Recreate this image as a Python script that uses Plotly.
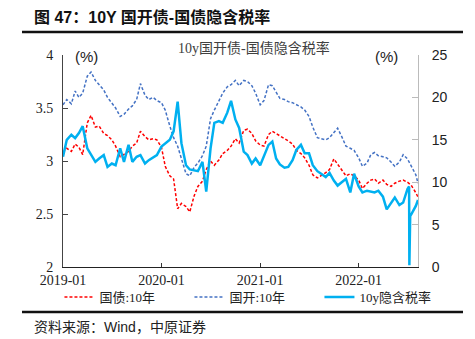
import pandas as pd
import plotly.graph_objects as go

# ---- data ----
grid_dates = list(pd.date_range("2019-01-01", "2022-08-01", freq="SMS").strftime("%Y-%m-%d")) + ["2022-08-09"]

gz_10y = [3.08, 3.12, 3.09, 3.16, 3.13, 3.06, 3.36, 3.43, 3.32, 3.33,
          3.26, 3.24, 3.20, 3.14, 3.04, 3.06, 3.09, 3.14, 3.17, 3.28,
          3.23, 3.20, 3.21, 3.20, 3.13, 2.95, 2.86, 2.83, 2.55, 2.60,
          2.57, 2.52, 2.67, 2.76, 2.81, 2.92, 3.00, 2.96, 3.01, 3.07,
          3.10, 3.14, 3.21, 3.17, 3.29, 3.30, 3.26, 3.19, 3.15, 3.14,
          3.25, 3.28, 3.26, 3.24, 3.21, 3.19, 3.16, 3.10, 3.07, 3.03,
          2.96, 2.87, 2.84, 2.86, 2.89, 2.92, 3.02, 2.97, 2.91, 2.86,
          2.88, 2.86, 2.82, 2.74, 2.79, 2.82, 2.83, 2.79, 2.82, 2.78,
          2.76, 2.79, 2.81, 2.82, 2.80, 2.77, 2.70, 2.66]

gk_10y = [3.53, 3.58, 3.54, 3.66, 3.60, 3.64, 3.80, 3.84, 3.76, 3.72,
          3.67, 3.60, 3.55, 3.50, 3.42, 3.44, 3.49, 3.52, 3.58, 3.73,
          3.62, 3.58, 3.60, 3.57, 3.55, 3.48, 3.33, 3.22, 3.14, 3.02,
          2.88, 2.86, 2.94, 2.98, 3.05, 3.14, 3.40, 3.48, 3.56, 3.64,
          3.70, 3.72, 3.76, 3.71, 3.76, 3.75, 3.71, 3.64, 3.53, 3.57,
          3.72, 3.71, 3.65, 3.59, 3.58, 3.56, 3.55, 3.53, 3.51, 3.48,
          3.42, 3.32, 3.22, 3.21, 3.20, 3.22, 3.27, 3.31, 3.22, 3.14,
          3.12, 3.10, 3.03, 2.95, 2.98, 3.06, 3.08, 3.05, 3.04, 3.03,
          2.99, 2.95, 2.99, 3.06, 3.02, 2.95, 2.87, 2.79]

tax_dates = grid_dates[:85] + ["2022-07-07", "2022-07-08", "2022-07-11"] + grid_dates[85:]
tax_10y = [13.0, 15.0, 15.6, 15.2, 15.8, 16.6, 14.0, 13.2, 12.4, 12.8,
           13.2, 11.8, 12.2, 12.0, 14.0, 12.4, 14.4, 12.4, 13.0, 13.2,
           12.2, 12.6, 12.9, 13.2, 14.2, 14.6, 15.0, 16.0, 19.5, 14.6,
           12.0, 11.5, 11.4, 11.3, 12.4, 8.9, 14.0, 17.0, 17.2, 17.0,
           18.2, 19.6, 17.4, 16.4, 13.6, 13.2, 12.2, 12.8, 12.0, 13.0,
           14.4, 14.8, 12.8, 12.1, 11.7, 11.8, 12.6, 13.8, 14.4, 13.4,
           13.4, 12.0, 11.3, 11.0, 10.6, 11.1, 10.2, 9.6, 10.0, 10.4,
           8.8, 11.0, 9.5, 8.8, 9.0, 8.9, 8.8, 9.0, 8.3, 6.8,
           7.6, 8.2, 7.3, 7.6, 9.2, 9.5, 0.2, 6.0, 6.2, 7.2, 7.9]

year_ticks = ["2019-01-01", "2020-01-01", "2021-01-01", "2022-01-01"]
year_labels = ["2019-01", "2020-01", "2021-01", "2022-01"]

SERIF = "Liberation Serif, Times New Roman, Noto Sans CJK SC, serif"
SANS = "Liberation Sans, Arial, Noto Sans CJK SC, sans-serif"
CJK_SERIF = "Liberation Serif, Noto Sans CJK SC, serif"

fig = go.Figure()
fig.add_trace(go.Scatter(x=grid_dates, y=gz_10y, name="国债:10年", mode="lines",
                         line=dict(color="#FF0000", width=1.5, dash="3px,2px")))
fig.add_trace(go.Scatter(x=grid_dates, y=gk_10y, name="国开:10年", mode="lines",
                         line=dict(color="#4472C4", width=1.5, dash="3px,2px")))
fig.add_trace(go.Scatter(x=tax_dates, y=tax_10y, name="10y隐含税率", mode="lines",
                         yaxis="y2", line=dict(color="#00B0F0", width=2.5)))

fig.update_layout(
    width=475, height=339,
    margin=dict(l=63, r=57, t=55, b=72, autoexpand=False),
    paper_bgcolor="white", plot_bgcolor="white",
    showlegend=True,
    legend=dict(orientation="h", x=-0.01, xanchor="left", y=-0.1415, yanchor="middle",
                font=dict(family=CJK_SERIF, size=13, color="#222"),
                entrywidth=85, entrywidthmode="pixels", itemwidth=30,
                bgcolor="rgba(0,0,0,0)"),
    xaxis=dict(type="date", range=["2019-01-01", "2022-08-09"],
               tickvals=year_ticks, ticktext=year_labels,
               ticks="inside", ticklen=4, tickcolor="#333",
               showline=True, linecolor="#222", linewidth=1,
               showgrid=False, zeroline=False, automargin=False,
               tickfont=dict(family=SERIF, size=14, color="#222")),
    yaxis=dict(range=[2, 4], tickvals=[2, 2.5, 3, 3.5, 4], ticktext=["2", "2.5", "3", "3.5", "4"],
               ticks="inside", ticklen=5, tickcolor="#444",
               showline=True, linecolor="#444", linewidth=1,
               showgrid=False, zeroline=False, ticklabelstandoff=6, automargin=False,
               tickfont=dict(family=SERIF, size=14, color="#222")),
    yaxis2=dict(range=[0, 25], tickvals=[0, 5, 10, 15, 20, 25], overlaying="y", side="right",
                ticks="inside", ticklen=6, tickcolor="#BBBBBB",
                showline=True, linecolor="#BBBBBB", linewidth=1,
                showgrid=False, zeroline=False, ticklabelstandoff=10, automargin=False,
                tickfont=dict(family=SANS, size=14, color="#222")),
)

def px2x(px):
    return (px - 63) / 355.0

def py2y(py):
    return (267 - py) / 212.0

annotations = [
    dict(text="<b>图 47：10Y 国开债-国债隐含税率</b>", x=px2x(32), y=py2y(17),
         xanchor="left", yanchor="middle", showarrow=False,
         font=dict(family="Liberation Sans, Noto Sans CJK SC, sans-serif", size=16, color="#111")),
    dict(text="10y国开债-国债隐含税率", x=px2x(254), y=py2y(48),
         xanchor="center", yanchor="middle", showarrow=False,
         font=dict(family=CJK_SERIF, size=14, color="#404040")),
    dict(text="(%)", x=px2x(86), y=py2y(56), xanchor="center", yanchor="middle", showarrow=False,
         font=dict(family=SANS, size=15, color="#222")),
    dict(text="(%)", x=px2x(386), y=py2y(56), xanchor="center", yanchor="middle", showarrow=False,
         font=dict(family=SANS, size=15, color="#222")),
    dict(text="资料来源：Wind，中原证券", x=px2x(32), y=py2y(327),
         xanchor="left", yanchor="middle", showarrow=False,
         font=dict(family="Liberation Sans, Noto Sans CJK SC, sans-serif", size=14, color="#222")),
]
for a in annotations:
    a["xref"] = "paper"
    a["yref"] = "paper"
fig.update_layout(annotations=annotations)

fig.add_shape(type="line", xref="paper", yref="paper",
              x0=px2x(22), x1=px2x(463), y0=py2y(32), y1=py2y(32),
              line=dict(color="#111", width=2.5))
fig.add_shape(type="line", xref="paper", yref="paper",
              x0=px2x(22), x1=px2x(463), y0=py2y(312), y1=py2y(312),
              line=dict(color="#111", width=2.5))

fig.write_html("out.html")
